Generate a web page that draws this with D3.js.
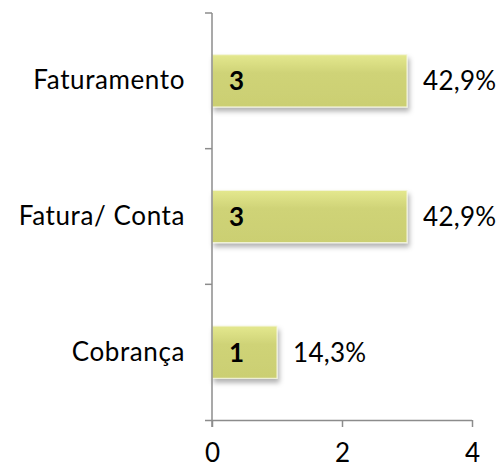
<!DOCTYPE html>
<html>
<head>
<meta charset="utf-8">
<script src="https://cdn.jsdelivr.net/npm/d3@7"></script>
<style>
  body { margin: 0; background: #fff; }
  svg { display: block; font-family: Lato, "Open Sans", sans-serif; }
</style>
</head>
<body>
<svg id="chart" width="500" height="468"></svg>
<script>
const categories = ["Faturamento", "Fatura/ Conta", "Cobrança"];
const counts = [3, 3, 1];
const percentLabels = ["42,9%", "42,9%", "14,3%"];
const xTicks = [0, 2, 4];

const width = 500, height = 468;
const margin = { top: 13, right: 28, bottom: 48, left: 212 };
const fontSize = 26;

const svg = d3.select("#chart");

const defs = svg.append("defs");
const grad = defs.append("linearGradient")
  .attr("id", "barGrad").attr("x1", 0).attr("y1", 0).attr("x2", 0).attr("y2", 1);
grad.append("stop").attr("offset", "0%").attr("stop-color", "#e4e88e");
grad.append("stop").attr("offset", "35%").attr("stop-color", "#cfd377");
grad.append("stop").attr("offset", "100%").attr("stop-color", "#cbcf72");

const shadow = defs.append("filter").attr("id", "shadow")
  .attr("x", "-10%").attr("y", "-10%").attr("width", "130%").attr("height", "150%");
shadow.append("feDropShadow")
  .attr("dx", 2).attr("dy", 4).attr("stdDeviation", 2.5)
  .attr("flood-color", "#000").attr("flood-opacity", 0.3);

const x = d3.scaleLinear()
  .domain([0, 4])
  .range([margin.left, margin.left + 260]);

const y = d3.scaleBand()
  .domain(categories)
  .range([margin.top, height - margin.bottom])
  .paddingInner(0.615)
  .paddingOuter(0.3075);

// bars
svg.append("g")
  .selectAll("rect")
  .data(categories)
  .join("rect")
  .attr("x", x(0))
  .attr("y", d => y(d))
  .attr("width", (d, i) => x(counts[i]) - x(0))
  .attr("height", y.bandwidth())
  .attr("fill", "url(#barGrad)")
  .attr("stroke", "#f4f5dc")
  .attr("stroke-width", 1)
  .attr("filter", "url(#shadow)");

// axes
const axisColor = "#8c8c8c";

const xAxis = svg.append("g")
  .attr("transform", `translate(0,${height - margin.bottom})`)
  .call(d3.axisBottom(x).tickValues(xTicks).tickFormat(d3.format("d"))
    .tickSize(7).tickSizeOuter(0).tickPadding(17));
xAxis.select(".domain").attr("stroke", axisColor).attr("stroke-width", 1.5)
  .attr("d", `M${x(0) - 7},0.5H${x(4)}`);
xAxis.selectAll(".tick line").attr("stroke", axisColor).attr("stroke-width", 1.5);
xAxis.selectAll(".tick text").attr("font-size", fontSize).attr("fill", "#000")
  .attr("font-family", "Lato, 'Open Sans', sans-serif");

// y axis with ticks at band boundaries
const yAxis = svg.append("g").attr("transform", `translate(${x(0)},0)`);
yAxis.append("line")
  .attr("x1", 0).attr("x2", 0)
  .attr("y1", margin.top).attr("y2", height - margin.bottom + 7)
  .attr("stroke", axisColor).attr("stroke-width", 1.5);
const boundaries = d3.range(categories.length).map(i => margin.top + i * (height - margin.top - margin.bottom) / categories.length);
yAxis.selectAll(".ytick")
  .data(boundaries)
  .join("line")
  .attr("x1", -7).attr("x2", 0)
  .attr("y1", d => d).attr("y2", d => d)
  .attr("stroke", axisColor).attr("stroke-width", 1.5);

// category labels
svg.append("g")
  .selectAll("text")
  .data(categories)
  .join("text")
  .attr("x", margin.left - 27)
  .attr("y", d => y(d) + y.bandwidth() / 2)
  .attr("dy", "0.33em")
  .attr("text-anchor", "end")
  .attr("font-size", fontSize)
  .attr("letter-spacing", "0.6px")
  .text(d => d);

// counts inside bars
svg.append("g")
  .selectAll("text")
  .data(categories)
  .join("text")
  .attr("x", x(0) + 17)
  .attr("y", d => y(d) + y.bandwidth() / 2)
  .attr("dy", "0.36em")
  .attr("font-size", fontSize)
  .attr("font-weight", "bold")
  .text((d, i) => counts[i]);

// percentages
svg.append("g")
  .selectAll("text")
  .data(categories)
  .join("text")
  .attr("x", (d, i) => x(counts[i]) + 16)
  .attr("y", d => y(d) + y.bandwidth() / 2)
  .attr("dy", "0.36em")
  .attr("font-size", fontSize)
  .attr("letter-spacing", "0.3px")
  .text((d, i) => percentLabels[i]);
</script>
</body>
</html>
